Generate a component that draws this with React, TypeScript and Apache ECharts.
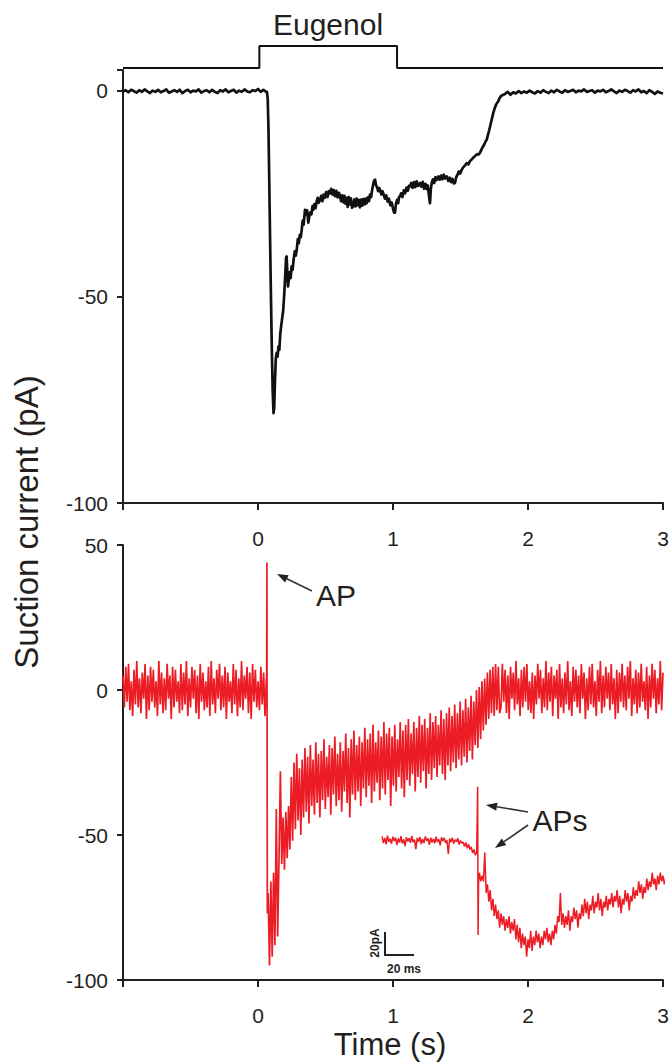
import React, { useEffect, useRef } from "react";
import * as echarts from "echarts";

// ---------- DATA ----------
const xTicks = [-1, 0, 1, 2, 3];
const stimulus: number[][] = [[-1, 0], [0.01, 0], [0.01, 1], [1.03, 1], [1.03, 0], [3, 0]];

// black trace (top) – baseline before, response, baseline after
const blackPre = [-0.2,0.1,-0.4,0.2,-0.1,-0.5,0.1,-0.3,0.3,-0.2,-0.6,0,-0.3,0.2,-0.4,-0.1,0.3,-0.5,-0.2,0.1,-0.3,0.2,-0.6,-0.1,0.2,-0.4,0,-0.2,0.3,-0.5,-0.1,0.1,-0.4,0.2,-0.3,-0.6,0.1,-0.2,0.3,-0.4,-0.1,0.2,-0.5,0,-0.3,0.3,-0.2,-0.4,0.1,-0.1,0.4,-0.3,0.2,-0.3];
const blackResp: number[][] = [[0.066,-0.3],[0.072,-2],[0.078,-10],[0.086,-28],[0.094,-46],[0.102,-62],[0.109,-73],[0.115,-78.2],[0.12,-77],[0.126,-70],[0.132,-65],[0.138,-63.6],[0.145,-64.5],[0.152,-62],[0.158,-62.9],[0.165,-59],[0.172,-57],[0.18,-55],[0.187,-53.2],[0.195,-49],[0.203,-44],[0.208,-40.5],[0.212,-40.2],[0.217,-44],[0.222,-47.5],[0.228,-46],[0.235,-44],[0.242,-45.5],[0.249,-42.6],[0.256,-43.5],[0.264,-41],[0.272,-39],[0.28,-40],[0.287,-38.6],[0.295,-36],[0.302,-37],[0.31,-35],[0.317,-35.5],[0.324,-33.7],[0.331,-31.5],[0.338,-32.5],[0.348,-28.9],[0.356,-30],[0.364,-29],[0.373,-32],[0.38,-30.5],[0.388,-29.5],[0.396,-30],[0.404,-28],[0.41,-28.9],[0.418,-27.5],[0.426,-28.5],[0.434,-27],[0.442,-26],[0.45,-27.2],[0.459,-26.5],[0.468,-25.5],[0.477,-26.8],[0.486,-25.2],[0.495,-26],[0.505,-24.6],[0.515,-25.8],[0.524,-24.4],[0.533,-24.9],[0.542,-23.8],[0.551,-25.2],[0.56,-24.1],[0.57,-25.6],[0.58,-24.3],[0.59,-25.9],[0.6,-24.8],[0.607,-25.6],[0.615,-26.8],[0.623,-25.4],[0.632,-27.1],[0.64,-25.5],[0.648,-27.4],[0.656,-26],[0.664,-28.2],[0.672,-25.8],[0.68,-27.6],[0.688,-26.1],[0.697,-28.4],[0.706,-28],[0.714,-26.4],[0.722,-28.1],[0.73,-26.2],[0.738,-27.8],[0.746,-26.5],[0.755,-28.3],[0.764,-26.4],[0.772,-27.9],[0.78,-26.3],[0.79,-27.6],[0.797,-26.2],[0.805,-27.3],[0.814,-25.9],[0.822,-26.8],[0.83,-25.2],[0.838,-25.8],[0.846,-24],[0.853,-22.8],[0.86,-21.8],[0.867,-21.6],[0.874,-22.9],[0.882,-23.5],[0.89,-24.4],[0.898,-23.6],[0.906,-24.3],[0.914,-25.2],[0.922,-24.4],[0.93,-25.1],[0.94,-26.2],[0.95,-25.4],[0.96,-26.9],[0.97,-26.2],[0.98,-27.8],[0.99,-27.1],[1.0,-28.6],[1.008,-29.6],[1.015,-29.6],[1.022,-27.4],[1.03,-26.5],[1.038,-27.3],[1.045,-25.8],[1.052,-25.6],[1.06,-24.9],[1.07,-25.8],[1.08,-24.2],[1.09,-24.9],[1.1,-23.5],[1.11,-24.3],[1.118,-23.1],[1.126,-23.2],[1.135,-22.4],[1.145,-23.6],[1.155,-22.2],[1.165,-23.4],[1.175,-22],[1.185,-23.1],[1.2,-22.4],[1.21,-23.3],[1.22,-22.1],[1.23,-23.8],[1.24,-22.6],[1.25,-23.9],[1.258,-23],[1.266,-25.4],[1.274,-27.3],[1.28,-24],[1.288,-22.2],[1.296,-21.5],[1.305,-22.4],[1.314,-21],[1.322,-21.7],[1.336,-20.8],[1.346,-21.6],[1.356,-20.6],[1.366,-21.5],[1.376,-20.4],[1.386,-21.3],[1.398,-20.8],[1.41,-21.9],[1.42,-21.1],[1.43,-22.2],[1.44,-21.4],[1.45,-22.5],[1.459,-22.4],[1.468,-21],[1.478,-20.4],[1.488,-19.6],[1.498,-20.1],[1.509,-19.2],[1.52,-18.6],[1.532,-18.2],[1.545,-17.6],[1.558,-17.9],[1.57,-17.1],[1.583,-16.7],[1.596,-16.2],[1.61,-15.8],[1.622,-15.4],[1.633,-15.5],[1.644,-15.1],[1.655,-14.3],[1.666,-13.6],[1.677,-13],[1.686,-12.3],[1.694,-11.9],[1.703,-10.8],[1.711,-9.8],[1.719,-8.7],[1.727,-7.6],[1.735,-6.5],[1.743,-5.4],[1.752,-4.4],[1.761,-3.6],[1.77,-3],[1.78,-2.6],[1.79,-1.8],[1.8,-1.3],[1.81,-1.1],[1.817,-1]];
const blackPost = [-0.8,-0.3,-1,-0.4,-0.7,-0.1,-0.6,-0.2,-0.5,0,-0.4,-0.7,-0.1,-0.5,0.1,-0.3,-0.6,0,-0.4,0.2,-0.2,-0.5,0.1,-0.3,-0.1,0.2,-0.4,0,-0.2,0.3,-0.3,-0.1,0.1,-0.5,0,-0.2,0.2,-0.4,-0.1,0.3,-0.2,-0.6,0,-0.3,0.2,-0.1,-0.5,0.1,-0.2,0.3,-0.4,-0.1,-0.6,0.1,-0.3,-0.8,-0.2,-0.5,-0.7];

// red trace (bottom)
const redPre = [5,-6,8,-4,9,-7,3,-9,7,-5,10,-6,4,-8,6,-3,9,-10,5,-7,8,-4,7,-6,3,-9,10,-5,6,-8,4,-7,9,-3,5,-10,8,-6,7,-4,3,-8,9,-7,6,-5,10,-9,4,-6,8,-3,7,-8,5,-10,9,-4,6,-7,3,-6,8,-9,10,-5,4,-8,7,-3,9,-7,5,-6,8,-10,6,-4,3,-8,9,-5,7,-9,4,-6,10,-7,5,-3,8,-8,6,-10,9,-4,7,-6,3,-7,8,-5,6,-9,4];
const redSpike: number[][] = [[0.064, 3], [0.066, 44], [0.069, -77]];
const redResp = [-70,-95,-66,-92,-63,-88,-41,-85,-58,-28,-60,-44,-62,-42,-58,-40,-55,-30,-52,-25,-48,-22,-45,-27,-50,-24,-44,-20,-42,-23,-46,-19,-40,-24,-43,-18,-39,-22,-44,-21,-38,-17,-41,-23,-37,-19,-43,-20,-36,-16,-40,-22,-38,-18,-42,-21,-35,-15,-39,-20,-44,-17,-36,-14,-38,-19,-35,-16,-40,-18,-34,-13,-37,-17,-33,-15,-39,-12,-35,-18,-32,-14,-38,-16,-34,-11,-36,-15,-31,-13,-40,-16,-33,-12,-35,-17,-30,-11,-34,-14,-37,-12,-31,-10,-33,-15,-29,-11,-35,-13,-30,-9,-32,-12,-28,-10,-34,-13,-29,-8,-31,-11,-27,-9,-30,-12,-26,-7,-29,-10,-31,-8,-26,-6,-28,-9,-25,-5,-27,-8,-24,-4,-26,-7,-23,-3,-25,-6,-21,-2,-24,-4,-19,0,-20,1,-17,3,-14,4,-12,6,-10,7,-8,8,-9,9,-7,8,-8];
const redPost = [-6,9,-4,7,-8,5,-10,8,-3,6,-7,10,-5,4,-9,7,-6,8,-4,9,-7,3,-8,6,-10,5,-5,9,-3,7,-8,4,-6,10,-7,6,-4,8,-9,5,-3,7,-10,9,-6,4,-8,6,-5,10,-7,3,-9,8,-4,7,-6,5,-8,9,-3,6,-10,4,-7,8,-5,9,-6,3,-9,7,-4,10,-8,5,-6,8,-3,6,-7,9,-5,4,-10,7,-8,6,-4,9,-6,5,-7,8,-3,10,-9,4,-5,7,-8,6,-6,9,-4,3,-7,8,-10,5,-6,9,-3,7,-8,4,-5,10,-7,6];

// inset trace (expanded time scale)
const insetPre = [-50.5,-52.8,-51,-53.2,-50.2,-52.4,-51.3,-53,-50.6,-52.1,-50.9,-53.5,-51.2,-52.6,-50.4,-52.9,-51.5,-53.8,-50.8,-52.2,-51.1,-52.7,-50.3,-52.5,-51.6,-54.9,-51,-52.3,-50.7,-53.1,-51.4,-52.8,-50.5,-52,-51.2,-53.4,-50.9,-52.6,-51.3,-52.9,-50.6,-52.4,-51.5,-53.6,-50.8,-52.1,-51,-52.7,-51.8,-56.5,-51.2,-52.5,-50.9,-53,-51.6,-52.3,-51.1,-53.3,-51.9,-52.8,-52.4,-54,-52.6,-54.6,-53.2,-55,-54.1,-56.2,-55,-57,-56];
const insetSpike: number[][] = [[1.623, -56], [1.627, -33.4], [1.630, -84.5], [1.634, -66]];
const insetPost = [-63,-66,-64,-66,-56,-70,-67,-73,-69,-76,-72,-78,-74,-79,-76,-82,-77,-81,-78,-83,-79,-82,-78,-84,-80,-83,-79,-86,-81,-87,-82,-89,-84,-88,-85,-92,-86,-89,-83,-90,-85,-88,-83,-87,-84,-89,-85,-88,-83,-86,-82,-87,-84,-88,-83,-86,-81,-84,-78,-80,-70,-81,-77,-82,-78,-81,-76,-83,-78,-80,-75,-79,-76,-82,-77,-79,-74,-78,-72,-77,-73,-79,-74,-76,-71,-77,-73,-75,-70,-76,-72,-78,-73,-75,-71,-76,-72,-74,-70,-75,-71,-73,-69,-75,-71,-77,-72,-74,-69,-73,-70,-76,-71,-73,-68,-72,-69,-71,-66,-70,-67,-72,-68,-70,-65,-69,-66,-68,-63,-67,-65,-69,-64,-67,-63,-66,-64,-67,-65,-68,-66];

// ---------- helpers ----------
const span = (t0: number, t1: number, vals: number[]) =>
  vals.map((v, i) => [t0 + ((t1 - t0) * i) / (vals.length - 1), v]);

const FONT = '"Liberation Sans", Arial, Helvetica, sans-serif';
const INK = "#231f20";
const RED = "#ec1c24";

function arrow(x1: number, y1: number, x2: number, y2: number) {
  const dx = x2 - x1, dy = y2 - y1;
  const L = Math.hypot(dx, dy);
  const ux = dx / L, uy = dy / L;
  const hl = 11, hw = 4;
  const bx = x2 - ux * hl, by = y2 - uy * hl;
  return [
    { type: "line", shape: { x1, y1, x2: bx, y2: by }, style: { stroke: "#333", lineWidth: 1.6 }, z: 100 },
    {
      type: "polygon",
      shape: { points: [[x2, y2], [bx - uy * hw, by + ux * hw], [bx + uy * hw, by - ux * hw]] },
      style: { fill: "#222" },
      z: 100,
    },
  ];
}

function txt(text: string, x: number, y: number, size: number, extra: any = {}) {
  const { weight, ...rest } = extra;
  return {
    type: "text",
    x,
    y,
    z: 100,
    ...rest,
    style: {
      text,
      fill: INK,
      font: `${weight || "normal"} ${size}px ${FONT}`,
      textAlign: "center",
      textVerticalAlign: "middle",
      align: "center",
      verticalAlign: "middle",
    },
  };
}

export default function App() {
  const ref = useRef<HTMLDivElement>(null);
  useEffect(() => {
    if (!ref.current) return;
    const chart = echarts.init(ref.current, undefined, { renderer: "svg" });

    const xAxisBase = (gridIndex: number) => ({
      type: "value",
      gridIndex,
      min: xTicks[0],
      max: xTicks[xTicks.length - 1],
      interval: 1,
      axisLine: { show: true, onZero: false, lineStyle: { color: INK, width: 2 } },
      axisTick: { show: true, length: 7, lineStyle: { color: INK, width: 2 } },
      axisLabel: {
        margin: 25,
        fontSize: 21,
        color: INK,
        fontFamily: FONT,
        formatter: (v: number) => (v === -1 ? "" : String(v)),
      },
      splitLine: { show: false },
    });
    const yAxisBase = (gridIndex: number, min: number, max: number) => ({
      type: "value",
      gridIndex,
      min,
      max,
      interval: 50,
      axisLine: { show: true, onZero: false, lineStyle: { color: INK, width: 2 } },
      axisTick: { show: true, length: 6, lineStyle: { color: INK, width: 2 } },
      axisLabel: {
        margin: 15,
        fontSize: 21,
        color: INK,
        fontFamily: FONT,
        formatter: (v: number) => (v % 50 === 0 ? String(v) : ""),
      },
      splitLine: { show: false },
    });

    const option: any = {
      animation: false,
      backgroundColor: "#ffffff",
      grid: [
        { left: 123, right: 9, top: 70, height: 433 },
        { left: 123, right: 9, top: 545, height: 435 },
        { left: 123, right: 9, top: 46, height: 22 },
      ],
      xAxis: [
        xAxisBase(0),
        xAxisBase(1),
        { type: "value", gridIndex: 2, min: -1, max: 3, show: false },
      ],
      yAxis: [
        yAxisBase(0, -100, 5),
        yAxisBase(1, -100, 50),
        { type: "value", gridIndex: 2, min: 0, max: 1, show: false },
      ],
      series: [
        {
          type: "line",
          xAxisIndex: 2,
          yAxisIndex: 2,
          data: stimulus,
          showSymbol: false,
          lineStyle: { color: "#111", width: 2 },
          clip: false,
        },
        {
          type: "line",
          xAxisIndex: 0,
          yAxisIndex: 0,
          data: [...span(-1, 0.06, blackPre), ...blackResp, ...span(1.83, 3.0, blackPost)],
          showSymbol: false,
          lineStyle: { color: "#111", width: 2.7, join: "round" },
          clip: false,
        },
        {
          type: "line",
          xAxisIndex: 1,
          yAxisIndex: 1,
          data: [
            ...span(-1, 0.062, redPre),
            ...redSpike,
            ...span(0.075, 1.79, redResp),
            ...span(1.8, 3.0, redPost),
          ],
          showSymbol: false,
          lineStyle: { color: RED, width: 1.7 },
          clip: false,
        },
        {
          type: "line",
          xAxisIndex: 1,
          yAxisIndex: 1,
          data: [...span(0.919, 1.62, insetPre), ...insetSpike, ...span(1.64, 3.04, insetPost)],
          showSymbol: false,
          lineStyle: { color: RED, width: 1.5 },
          clip: false,
        },
      ],
      graphic: [
        txt("Eugenol", 328, 24, 30),
        txt("Suction current (pA)", 26, 522, 33, { rotation: Math.PI / 2 }),
        txt("Time (s)", 390, 1044, 31),
        txt("AP", 336, 595, 30),
        ...arrow(312, 591, 277, 574),
        txt("APs", 560, 820, 30),
        ...arrow(528, 812, 486, 805),
        ...arrow(528, 825, 495, 848),
        // scale bar for inset
        { type: "line", shape: { x1: 385, y1: 932, x2: 385, y2: 956 }, style: { stroke: "#222", lineWidth: 2 }, z: 100 },
        { type: "line", shape: { x1: 384, y1: 955, x2: 414, y2: 955 }, style: { stroke: "#222", lineWidth: 2 }, z: 100 },
        txt("20pA", 375, 943, 12, { rotation: Math.PI / 2, weight: "bold" }),
        txt("20 ms", 404, 969, 12, { weight: "bold" }),
      ],
    };
    chart.setOption(option);
    return () => chart.dispose();
  }, []);

  return (
    <div
      ref={ref}
      style={{ position: "absolute", left: 0, top: 0, width: 672, height: 1063, background: "#fff" }}
    />
  );
}
